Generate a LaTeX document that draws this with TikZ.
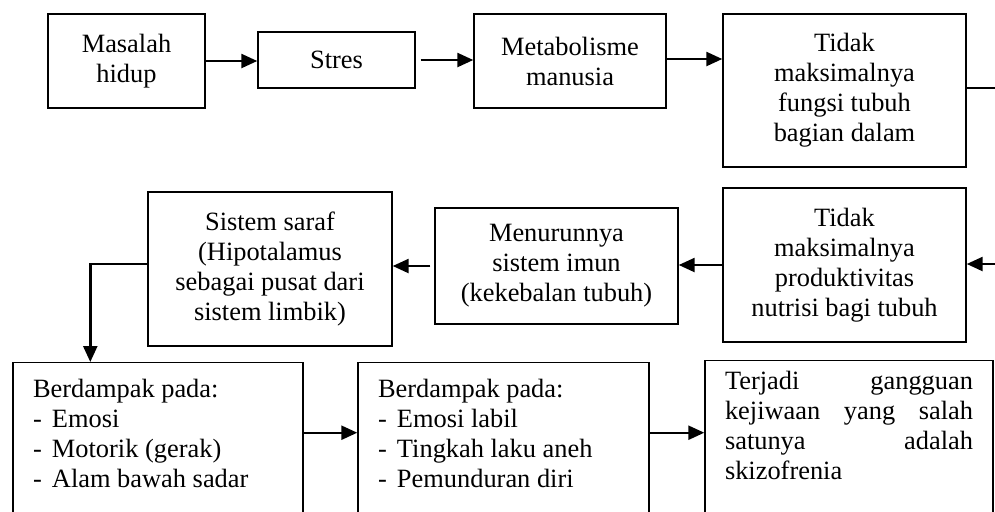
\documentclass[tikz,border=0pt]{standalone}
\usepackage{fontspec}
\setmainfont{Liberation Serif}
\usetikzlibrary{positioning,calc,arrows.meta}

\newcommand{\butir}[1]{\makebox[9.5pt][l]{-}#1}
\newcommand{\isiatas}[2]{\parbox[c][74pt][t]{#1}{#2}}

\begin{document}
\begin{tikzpicture}[x=0.5pt,y=-0.5pt,
	kotak/.style={draw,line width=0.7pt,inner sep=0pt,align=center,font=\fontsize{13.2}{15}\selectfont},
	dampak/.style={draw,line width=0.7pt,anchor=north,inner xsep=10pt,inner ysep=8pt,font=\fontsize{13.2}{15}\selectfont},
	panah/.style={line width=1.2pt,-{Triangle[length=8pt,width=7pt]}}]
		\useasboundingbox (0,0) rectangle (995,511);
		\clip (0,0) rectangle (995,511);
		% baris atas
		\node[kotak,minimum width=78.5pt,minimum height=47pt] (masalah) at (126.5,61) {Masalah\\hidup};
		\node[kotak,minimum width=78.5pt,minimum height=28pt] (stres) at (336.5,60) {Stres};
		\node[kotak,minimum width=96pt,minimum height=47pt] (metab) at (570,61) {Metabolisme\\manusia};
		\node[kotak,minimum width=121.5pt,minimum height=76.5pt] (tidak1) at (844.5,90.5) {Tidak\\maksimalnya\\fungsi tubuh\\bagian dalam};
		% baris tengah
		\node[kotak,minimum width=121.5pt,minimum height=77pt] (tidak2) at (844.5,265) {Tidak\\maksimalnya\\produktivitas\\nutrisi bagi tubuh};
		\node[kotak,minimum width=121.5pt,minimum height=58pt] (menurun) at (556.5,266) {Menurunnya\\sistem imun\\(kekebalan tubuh)};
		\node[kotak,minimum width=122pt,minimum height=77pt] (saraf) at (270,269) {Sistem saraf\\(Hipotalamus\\sebagai pusat dari\\sistem limbik)};
		% baris bawah
		\node[dampak] (dampak1) at (158,362) {\isiatas{125pt}{Berdampak pada:\\\butir{Emosi}\\\butir{Motorik (gerak)}\\\butir{Alam bawah sadar}}};
		\node[dampak] (dampak2) at (503.5,362) {\isiatas{125.5pt}{Berdampak pada:\\\butir{Emosi labil}\\\butir{Tingkah laku aneh}\\\butir{Pemunduran diri}}};
		\node[dampak,inner ysep=5pt] (skizo) at (849,360) {\isiatas{124pt}{\raggedright Terjadi\hfill gangguan\\kejiwaan\hfill yang\hfill salah\\satunya\hfill adalah\\skizofrenia}};
		% panah
		\coordinate (kanan1) at (995,88);
		\coordinate (kanan2) at (995,264);
		\draw[panah] (masalah.east) -- (masalah.east -| stres.west);
		\draw[panah] ([xshift=2.5pt]stres.east) -- (stres.east -| metab.west);
		\draw[panah] ([yshift=1pt]metab.east) -- ([yshift=1pt]metab.east -| tidak1.west);
		\draw[line width=1.2pt] (kanan1 -| tidak1.east) -- (kanan1);
		\draw[panah] (kanan2) -- (kanan2 -| tidak2.east);
		\draw[panah] (tidak2.west) -- (tidak2.west -| menurun.east);
		\draw[panah] ([xshift=-2pt]menurun.west) -- (menurun.west -| saraf.east);
		\draw[panah] ([yshift=2.5pt]saraf.west) -| ([xshift=39pt]dampak1.north west);
		\draw[panah] ([yshift=10pt]dampak1.east) -- ([yshift=10pt]dampak1.east -| dampak2.west);
		\draw[panah] ([yshift=10pt]dampak2.east) -- ([yshift=10pt]dampak2.east -| skizo.west);
\end{tikzpicture}
\end{document}
